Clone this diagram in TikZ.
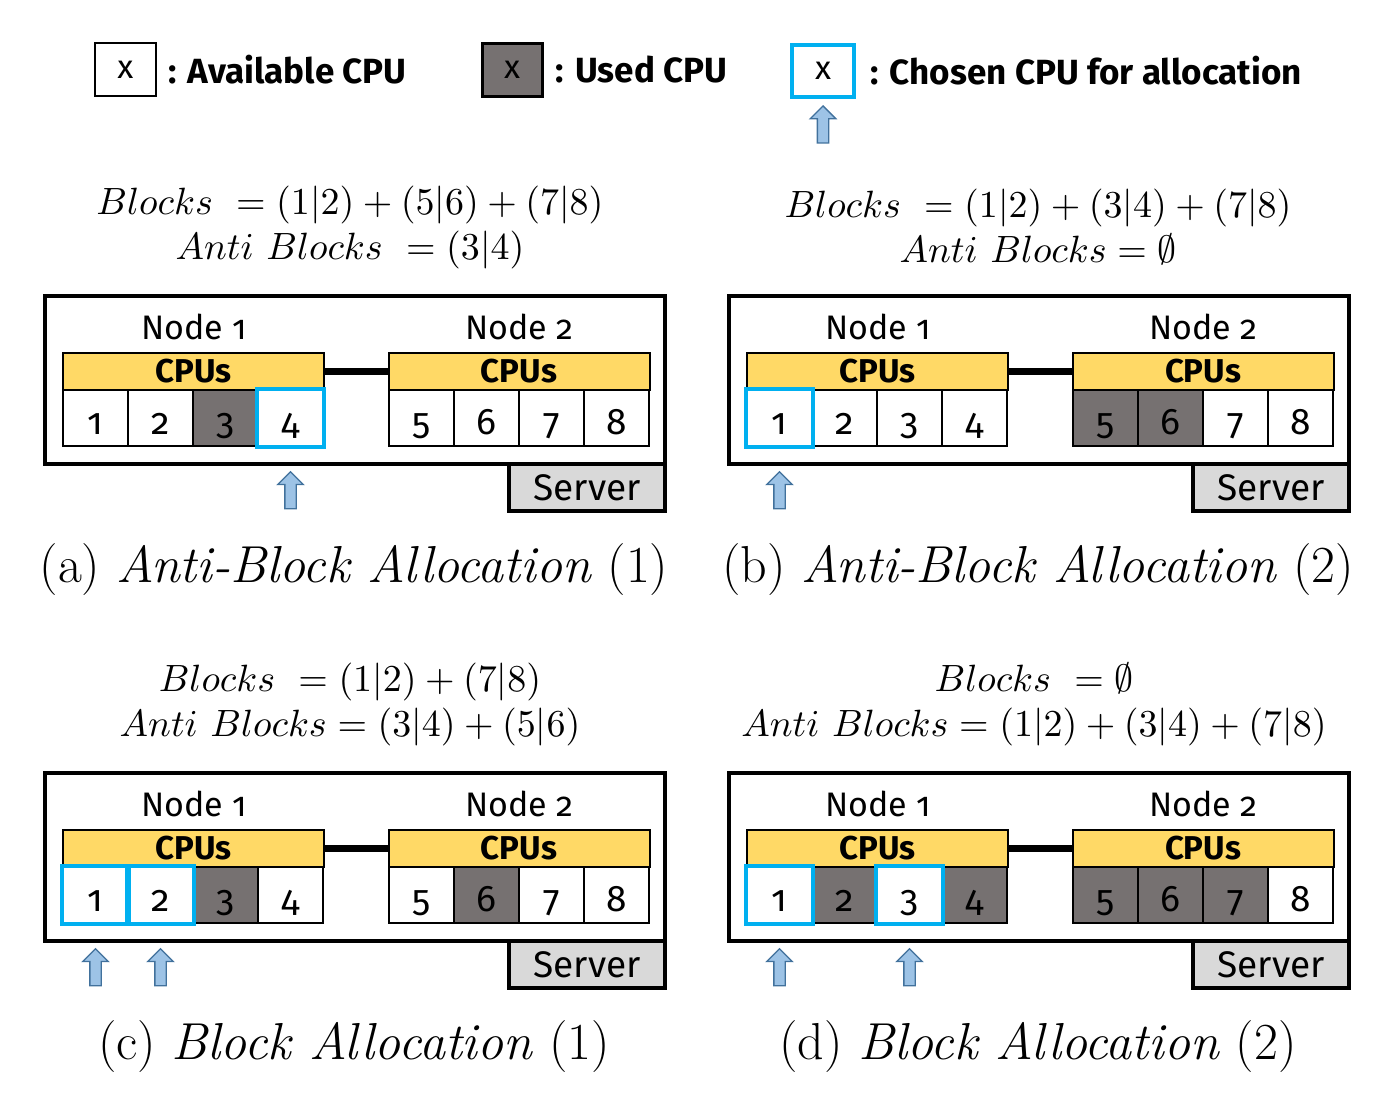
\documentclass[tikz,border=0pt]{standalone}
\usepackage{graphicx}
\usepackage{fontspec}
\setsansfont{Fira Sans}[Numbers=OldStyle]
\usetikzlibrary{positioning, shapes.arrows}
\definecolor{usedgray}{HTML}{767171}
\definecolor{cpuyellow}{HTML}{FFD966}
\definecolor{chosenblue}{HTML}{00B0F0}
\definecolor{serverfill}{HTML}{D9D9D9}
\definecolor{arrowfill}{HTML}{9DC3E6}
\definecolor{arrowline}{HTML}{41719C}

\tikzset{
  cell/.style={draw, line width=2pt, minimum width=65pt, minimum height=56pt, inner sep=0pt,
    font=\sffamily\fontsize{37}{37}\selectfont, text height=32pt, text depth=0pt},
  freecell/.style={cell, fill=white},
  usedcell/.style={cell, fill=usedgray},
  chosenframe/.style={draw=chosenblue, line width=4.5pt},
  cpubar/.style={draw, line width=2pt, fill=cpuyellow, minimum width=261pt, minimum height=37pt,
    inner sep=0pt, font=\sffamily\bfseries\fontsize{33}{33}\selectfont},
  busline/.style={line width=7pt},
  nodelabel/.style={font=\sffamily\fontsize{34}{34}\selectfont, inner sep=0pt},
  serverbox/.style={draw, line width=4pt, minimum width=620pt, minimum height=168pt},
  srvlabel/.style={draw, line width=4pt, fill=serverfill, minimum width=156pt, minimum height=47pt,
    inner sep=0pt, font=\sffamily\fontsize{37}{37}\selectfont},
  uparrow/.style={single arrow, shape border rotate=90, draw=arrowline, fill=arrowfill,
    line width=1.3pt, minimum height=37pt, minimum width=23pt, inner sep=5pt},
  legbox/.style={draw, minimum height=53pt, inner sep=0pt, font=\sffamily\fontsize{33}{33}\selectfont},
  legtext/.style={font=\sffamily\bfseries\fontsize{35}{35}\selectfont, inner sep=0pt},
  eqtext/.style={align=center, font=\fontsize{10}{45}\selectfont},
  captext/.style={font=\fontsize{52}{52}\selectfont}
}

\newcommand{\eqline}[1]{\scalebox{3.8}{$#1$}}

% one server with two NUMA nodes
\newcommand{\serverpanel}[5]{%
  \begin{scope}[shift={(#2,#3)}]
    \node[serverbox] (#1-box) at (355,380) {};
    \node[nodelabel] (#1-n1) at (194,327) {Node 1};
    \node[nodelabel] (#1-n2) at (519,327) {Node 2};
    \node[cpubar] (#1-bar1) at (193.5,371.5) {CPUs};
    \node[cpubar] (#1-bar2) at (519,371.5) {CPUs};
    \draw[busline] (#1-bar1.east) -- (#1-bar2.west);
    \foreach \st [count=\i] in {#4} {
      \pgfmathsetmacro{\cx}{\i<5 ? 95.5+65*(\i-1) : 421.5+65*(\i-5)}
      \node[\st] (#1-c\i) at (\cx,418) {\i};
    }
    \foreach \j in {#5} {
      \draw[chosenframe] (#1-c\j.north west) rectangle (#1-c\j.south east);
      \node[uparrow, yshift=-46pt] (#1-a\j) at (#1-c\j.south) {};
    }
    \node[srvlabel] (#1-srv) at (587,487.5) {Server};
  \end{scope}
}

\begin{document}
\begin{tikzpicture}[x=1pt, y=-1pt]
  \useasboundingbox (0,0) rectangle (1380,1092);

  % legend
  \node[legbox, line width=2pt, minimum width=61pt] (legA) at (125.5,69.5) {x};
  \node[legtext, right=11pt of legA] (legAtxt) {: Available CPU};
  \node[legbox, line width=3pt, fill=usedgray, minimum width=60pt] (legB) at (512,69.5) {x};
  \node[legtext, right=12pt of legB] (legBtxt) {: Used CPU};
  \node[legbox, draw=chosenblue, line width=4.5pt, minimum width=62pt, minimum height=52pt] (legC) at (823,71) {x};
  \node[legtext, right=14pt of legC] (legCtxt) {: Chosen CPU for allocation};
  \node[uparrow, yshift=-28pt] (legArr) at (legC.south) {};

  % (a)
  \node[eqtext] (eqa) at (350,227) {\eqline{Blocks\ = (1|2) + (5|6) + (7|8)}\\\eqline{Anti\ Blocks\ = (3|4)}};
  \serverpanel{pa}{0}{0}{freecell,freecell,usedcell,freecell,freecell,freecell,freecell,freecell}{4}
  \node[captext] (capa) at (354,570) {(a) \textit{Anti-Block Allocation} (1)};

  % (b)
  \node[eqtext] (eqb) at (1038,227) {\eqline{Blocks\ = (1|2) + (3|4) + (7|8)}\\\eqline{Anti\ Blocks = \emptyset}};
  \serverpanel{pb}{684}{0}{freecell,freecell,freecell,freecell,usedcell,usedcell,freecell,freecell}{1}
  \node[captext] (capb) at (1038,570) {(b) \textit{Anti-Block Allocation} (2)};

  % (c)
  \node[eqtext] (eqc) at (350,704) {\eqline{Blocks\ = (1|2) + (7|8)}\\\eqline{Anti\ Blocks = (3|4) + (5|6)}};
  \serverpanel{pc}{0}{477}{freecell,freecell,usedcell,freecell,freecell,usedcell,freecell,freecell}{1,2}
  \node[captext] (capc) at (354,1047) {(c) \textit{Block Allocation} (1)};

  % (d)
  \node[eqtext] (eqd) at (1034,704) {\eqline{Blocks\ = \emptyset}\\\eqline{Anti\ Blocks = (1|2) + (3|4) + (7|8)}};
  \serverpanel{pd}{684}{477}{freecell,usedcell,freecell,usedcell,usedcell,usedcell,usedcell,freecell}{1,3}
  \node[captext] (capd) at (1038,1047) {(d) \textit{Block Allocation} (2)};
\end{tikzpicture}
\end{document}
